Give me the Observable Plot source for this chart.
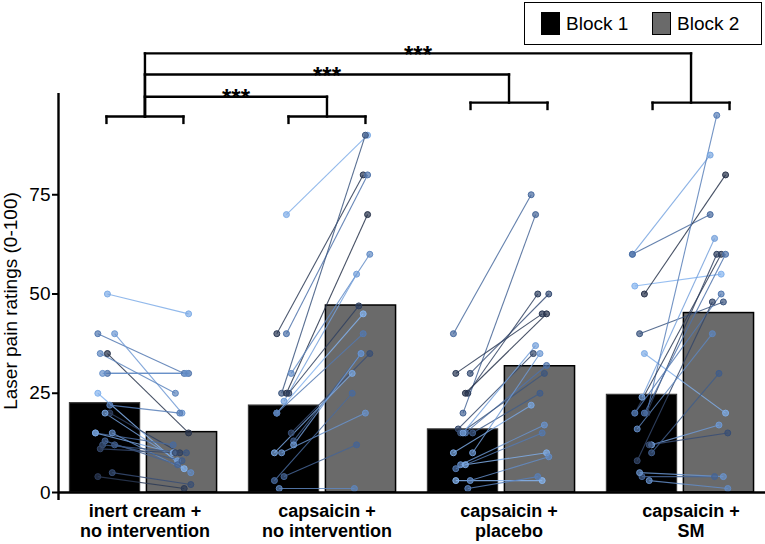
<!DOCTYPE html>
<html><head><meta charset="utf-8">
<script src="https://cdn.jsdelivr.net/npm/d3@7"></script>
<script src="https://cdn.jsdelivr.net/npm/@observablehq/plot@0.6"></script>
<style>
body{margin:0;background:#fff;}
#wrap{position:relative;width:765px;height:544px;font-family:"Liberation Sans",Arial,sans-serif;}
#legend{position:absolute;left:524px;top:2px;width:236px;height:41px;border:1.5px solid #000;background:#fff;font-size:19px;}
.item{position:absolute;top:9px;display:flex;align-items:center;}
.sw{width:19px;height:23px;box-sizing:border-box;margin-right:6px;}
</style></head><body><div id="wrap"><div id="legend"></div></div>
<script>
// ---------- data ----------
const groups = ["inert cream + no intervention", "capsaicin + no intervention", "capsaicin + placebo", "capsaicin + SM"];
const labelLine1 = ["inert cream +", "capsaicin +", "capsaicin +", "capsaicin +"];
const labelLine2 = ["no intervention", "no intervention", "placebo", "SM"];
const blocks = ["Block 1", "Block 2"];
const meanBlock1 = [22.5, 21.9, 15.9, 24.6];
const meanBlock2 = [15.2, 47.1, 31.8, 45.2];
const yTicks = [0, 25, 50, 75];
const yLabel = "Laser pain ratings (0-100)";

// individual subjects (paired Block 1 -> Block 2), subject id per pair
const g1Block1 = [50, 40, 40, 35, 35, 30, 30, 25, 22, 20, 20, 15, 15, 15, 13, 12, 12, 11, 5, 4];
const g1Block2 = [45, 30, 20, 15, 25, 30, 30, 6, 20, 10, 8, 12, 10, 5, 7, 10, 8, 10, 2, 1];
const g1Subject = [19, 11, 16, 1, 13, 10, 15, 20, 12, 3, 17, 9, 18, 14, 8, 6, 7, 4, 5, 2];

const g2Block1 = [70, 40, 40, 25, 25, 30, 23, 25, 20, 20, 15, 13, 12, 10, 10, 4, 3, 1];
const g2Block2 = [90, 80, 80, 90, 70, 60, 55, 47, 45, 40, 35, 35, 35, 30, 20, 12, 25, 1];
const g2Subject = [19, 2, 10, 6, 1, 14, 17, 3, 20, 11, 5, 7, 16, 18, 15, 8, 9, 13];

const g3Block1 = [40, 20, 30, 30, 25, 25, 16, 15, 15, 15, 15, 10, 10, 7, 7, 6, 3, 3, 1];
const g3Block2 = [75, 70, 45, 50, 50, 45, 35, 32, 30, 25, 37, 35, 22, 17, 10, 15, 9, 3, 4];
const g3Subject = [9, 8, 2, 5, 3, 1, 4, 10, 6, 7, 17, 16, 18, 15, 19, 11, 14, 20, 12];

const g4Block1 = [60, 60, 52, 50, 40, 35, 24, 20, 20, 20, 20, 20, 8, 16, 12, 12, 10, 4, 5, 3];
const g4Block2 = [85, 70, 55, 80, 48, 20, 64, 95, 60, 60, 60, 50, 48, 40, 17, 15, 30, 4, 4, 1];
const g4Subject = [18, 9, 20, 1, 6, 19, 17, 12, 2, 3, 10, 11, 4, 13, 16, 5, 7, 8, 15, 14];

// significance comparisons (group index from -> to)
const compareFrom = [0, 0, 0];
const compareTo = [1, 2, 3];
const compareLabel = ["***", "***", "***"];

// ---------- layout ----------
const X_LEFT = -0.475, X_RIGHT = 3.475;
const PX = 1 / 179;
const barOffset = 0.215, barHalf = 0.196;
const ann = g => g * 1.017 + 0.008;     // annotation (label / bracket) centre
const bracketHalf = 0.215;
const withinLevel = [94.7, 94.7, 98.2, 98.2];
const tickDrop = 1.6;
const compareLevel = [99.7, 105.3, 110.6];

const bars1 = groups.map((g, i) => ({g: i, value: meanBlock1[i]}));
const bars2 = groups.map((g, i) => ({g: i, value: meanBlock2[i]}));

const groupData = [[g1Block1, g1Block2, g1Subject], [g2Block1, g2Block2, g2Subject],
                   [g3Block1, g3Block2, g3Subject], [g4Block1, g4Block2, g4Subject]];
const pairs = [], pts = [];
groupData.forEach(([b1, b2, s], gi) => {
  b1.forEach((v, k) => {
    const id = s[k];
    const j1 = ((id * 5) % 9 - 4) * 2.4 * PX;
    const j2 = ((id * 7) % 9 - 4) * 2.2 * PX;
    const x1 = gi - barOffset + j1, x2 = gi + barOffset + j2;
    pairs.push({x1, x2, y1: v, y2: b2[k], id});
    pts.push({x: x1, y: v, id}, {x: x2, y: b2[k], id});
  });
});

const segs = [];
groups.forEach((_, g) => {
  const c = ann(g), L = withinLevel[g];
  segs.push({x1: c - bracketHalf, x2: c + bracketHalf, y1: L, y2: L});
  segs.push({x1: c - bracketHalf, x2: c - bracketHalf, y1: L, y2: L - tickDrop});
  segs.push({x1: c + bracketHalf, x2: c + bracketHalf, y1: L, y2: L - tickDrop});
});
const stars = [];
compareFrom.forEach((f, k) => {
  const t = compareTo[k], lev = compareLevel[k];
  segs.push({x1: ann(f), x2: ann(t), y1: lev, y2: lev});
  segs.push({x1: ann(t), x2: ann(t), y1: withinLevel[t], y2: lev});
  segs.push({x1: ann(f), x2: ann(f), y1: withinLevel[f], y2: lev});
  stars.push({x: (ann(f) + ann(t)) / 2, y: lev, text: compareLabel[k]});
});

const chart = Plot.plot({
  width: 765, height: 544,
  marginLeft: 58, marginRight: 0, marginTop: 95, marginBottom: 52,
  style: {fontFamily: '"Liberation Sans", Arial, sans-serif', fontSize: "19px", color: "#000", background: "transparent"},
  x: {domain: [X_LEFT, X_RIGHT], axis: null},
  y: {domain: [0, 100], ticks: yTicks, tickSize: 0, tickPadding: 8, label: null},
  color: {type: "linear", domain: [1, 10, 20], range: ["#27324a", "#4d72aa", "#84b3ee"]},
  marks: [
    Plot.rect(bars1, {x1: d => d.g - barOffset - barHalf, x2: d => d.g - barOffset + barHalf,
      y1: () => 0, y2: "value", fill: "#000", stroke: "#3a3a3a", strokeWidth: 1.2}),
    Plot.rect(bars2, {x1: d => d.g + barOffset - barHalf, x2: d => d.g + barOffset + barHalf,
      y1: () => 0, y2: "value", fill: "#6a6a6a", stroke: "#000", strokeWidth: 1.5}),
    Plot.link(pairs, {x1: "x1", y1: "y1", x2: "x2", y2: "y2", stroke: "id", strokeWidth: 1.1, strokeOpacity: 0.85}),
    Plot.dot(pts, {x: "x", y: "y", r: 3, fill: "id", stroke: "id", fillOpacity: 0.7, strokeWidth: 1}),
    Plot.ruleY([0], {strokeWidth: 2.4}),
    Plot.ruleX([X_LEFT], {y1: () => -2, y2: () => 100.5, strokeWidth: 2.4}),
    Plot.ruleY(yTicks, {x1: () => X_LEFT - 6 * PX, x2: () => X_LEFT, strokeWidth: 2}),
    Plot.text([yLabel], {frameAnchor: "left", rotate: -90, dx: -48, dy: 7, fontSize: 19,
      textAnchor: "middle", lineAnchor: "middle"}),
    Plot.link(segs, {x1: "x1", y1: "y1", x2: "x2", y2: "y2", stroke: "#000", strokeWidth: 2.4, strokeLinecap: "square"}),
    Plot.text(stars, {x: "x", y: "y", text: "text", fontSize: 24, fontWeight: "bold", lineAnchor: "middle", dy: 2}),
    Plot.text(labelLine1, {x: (d, i) => ann(i), y: () => 0, text: d => d, dy: 19, lineAnchor: "middle", fontWeight: "bold", fontSize: 18}),
    Plot.text(labelLine2, {x: (d, i) => ann(i), y: () => 0, text: d => d, dy: 39, lineAnchor: "middle", fontWeight: "bold", fontSize: 18})
  ]
});
const wrap = document.getElementById("wrap");
wrap.insertBefore(chart, wrap.firstChild);

// legend
const legend = document.getElementById("legend");
const swatchFill = ["#000", "#6a6a6a"];
blocks.forEach((b, i) => {
  const it = document.createElement("div");
  it.className = "item";
  it.style.left = (i === 0 ? 16 : 127) + "px";
  const sw = document.createElement("div");
  sw.className = "sw";
  sw.style.background = swatchFill[i];
  sw.style.border = "1.5px solid #000";
  const tx = document.createElement("span");
  tx.textContent = b;
  it.appendChild(sw); it.appendChild(tx);
  legend.appendChild(it);
});
</script></body></html>
